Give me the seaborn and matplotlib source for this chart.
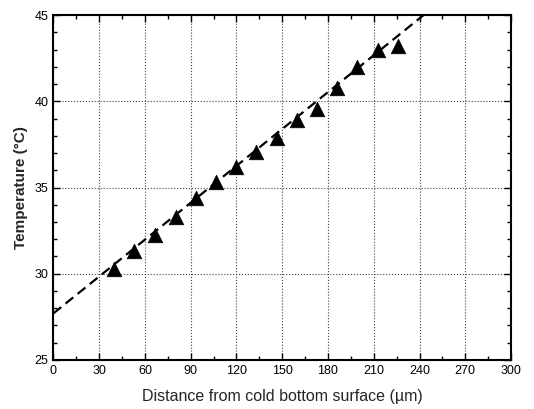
import numpy as np
import pandas as pd
import matplotlib
matplotlib.use("Agg")
import matplotlib.pyplot as plt
from matplotlib.ticker import MultipleLocator
import seaborn as sns

# Measured points (distance in um, temperature in C)
distance = [39.8, 53.1, 66.4, 80.2, 93.6, 106.4, 119.8, 133.1,
            146.7, 159.6, 172.7, 186.2, 199.3, 212.7, 225.8]
temperature = [30.3, 31.3, 32.25, 33.3, 34.37, 35.34, 36.2, 37.04,
               37.9, 38.9, 39.53, 40.75, 42.0, 42.97, 43.2]

# Linear fit
fit_intercept = 27.7
fit_slope = 0.0713
fit_range = [0, 300]

x_ticks = [0, 30, 60, 90, 120, 150, 180, 210, 240, 270, 300]
y_ticks = [25, 30, 35, 40, 45]

df = pd.DataFrame({"x": distance, "y": temperature})
fit_x = np.array(fit_range, dtype=float)
fit_df = pd.DataFrame({"x": fit_x, "y": fit_intercept + fit_slope * fit_x})

sns.set_style("ticks")
plt.rcParams['font.family'] = ['Liberation Sans', 'DejaVu Sans']

fig = plt.figure(figsize=(5.34, 4.09), dpi=100)
ax = fig.add_axes([0.100, 0.120, 0.857, 0.843])

# dashed fit line and triangles
sns.lineplot(data=fit_df, x="x", y="y", ax=ax, color="black",
             linewidth=1.6, zorder=2)
ax.lines[-1].set_dashes((4.5, 2.5))
sns.scatterplot(data=df, x="x", y="y", ax=ax, marker="^", s=110,
                color="black", edgecolor="black", linewidth=0.5, zorder=3)

ax.set_xlim(0, 300)
ax.set_ylim(25, 45)
ax.set_xticks(x_ticks)
ax.set_yticks(y_ticks)
ax.xaxis.set_minor_locator(MultipleLocator(15))
ax.yaxis.set_minor_locator(MultipleLocator(1))

ax.grid(True, which="major", linestyle=":", color="#444444", linewidth=0.8, zorder=0)
ax.set_axisbelow(True)

ax.tick_params(which="both", direction="in", top=True, right=True, labelsize=9,
               width=1.0, colors="black")
ax.tick_params(which="major", length=5)
ax.tick_params(which="minor", length=3)
for sp in ax.spines.values():
    sp.set_linewidth(1.5)
    sp.set_color("black")

ax.set_xlabel("Distance from cold bottom surface (\u00b5m)", fontsize=11.5, labelpad=9)
ax.set_ylabel("Temperature (\u00b0C)", fontsize=11, fontweight="bold", labelpad=5)

fig.savefig("out.png", dpi=100)
